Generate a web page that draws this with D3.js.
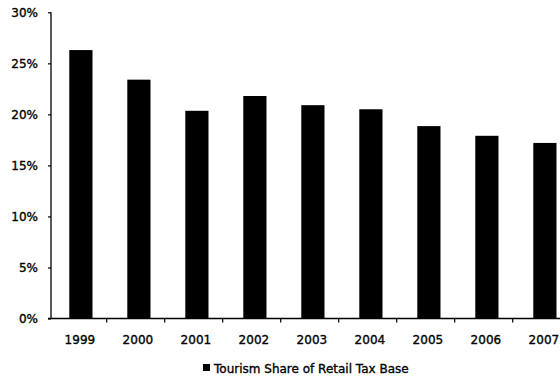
<!DOCTYPE html>
<html><head><meta charset="utf-8">
<script src="https://cdn.jsdelivr.net/npm/d3@7"></script>
<style>body{margin:0;background:#fff;} svg{display:block;} text{font-family:"DejaVu Sans",Verdana,sans-serif;fill:#000;stroke:#000;stroke-width:0.35px;}</style>
</head><body>
<svg id="c" width="560" height="377"></svg>
<script>
const years = ["1999","2000","2001","2002","2003","2004","2005","2006","2007"];
const shares = [26.3, 23.4, 20.35, 21.8, 20.9, 20.5, 18.85, 17.9, 17.2];
const yTicks = [0, 5, 10, 15, 20, 25, 30];
const seriesName = "Tourism Share of Retail Tax Base";

const svg = d3.select("#c");
const x = d3.scaleBand().domain(years).range([48.7, 570.7]).padding(0);
const y = d3.scaleLinear().domain([0, 30]).range([318.5, 12.3]);
const bw = x.bandwidth();

// bars
svg.append("g").selectAll("rect").data(years).join("rect")
  .attr("x", (d) => x(d) + bw * 0.355)
  .attr("width", bw * 0.4)
  .attr("y", (d, i) => y(shares[i]))
  .attr("height", (d, i) => y(0) - y(shares[i]))
  .attr("fill", "#000");

// y axis
const yAxis = d3.axisLeft(y).tickValues(yTicks).tickSize(3).tickPadding(9).tickFormat(d => d + "%");
const gy = svg.append("g").attr("transform", "translate(51,0)").call(yAxis);
gy.select(".domain").attr("stroke", "#000").attr("stroke-width", 1.3).attr("d", `M0,${y(30)}V${y(0)}`);
gy.selectAll(".tick line").attr("stroke", "#000").attr("stroke-width", 1.2);
gy.selectAll("text").attr("font-size", 12).attr("font-family", "'DejaVu Sans',Verdana,sans-serif").attr("dx", -1);

// x axis line and ticks at band boundaries
const gx = svg.append("g");
gx.append("line").attr("x1", 48).attr("x2", 560).attr("y1", y(0)).attr("y2", y(0)).attr("stroke", "#000").attr("stroke-width", 1.3);
gx.selectAll("line.t").data(years.slice(1)).join("line").attr("class","t")
  .attr("x1", d => x(d)).attr("x2", d => x(d))
  .attr("y1", y(0)).attr("y2", y(0) + 4).attr("stroke", "#000").attr("stroke-width", 1.2);
gx.selectAll("text").data(years).join("text")
  .attr("x", d => x(d) + bw * 0.355 + bw * 0.2 - 1)
  .attr("y", 344)
  .attr("text-anchor", "middle")
  .attr("font-size", 12)
  .text(d => d);

// legend
const lg = svg.append("g").attr("transform", "translate(203,363)");
lg.append("rect").attr("x", 0).attr("y", 1).attr("width", 7).attr("height", 7).attr("fill", "#000");
lg.append("text").attr("x", 11).attr("y", 9.5).attr("font-size", 12).text(seriesName);
</script>
</body></html>
